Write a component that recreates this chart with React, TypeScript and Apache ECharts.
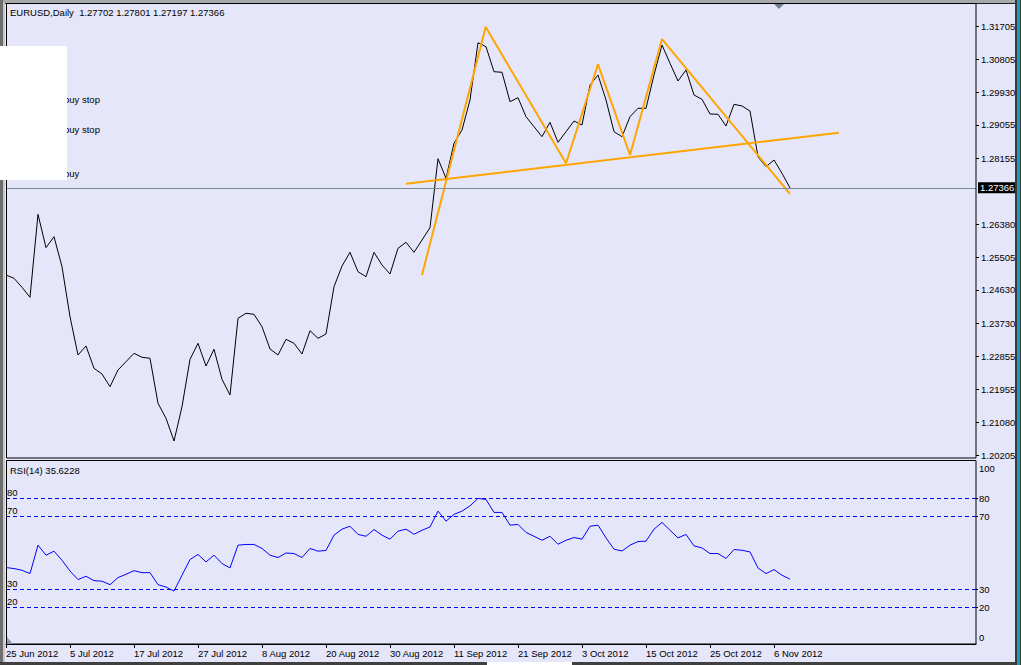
import React, { useEffect, useRef } from "react";
import * as echarts from "echarts";

// Daily closes, bar 0 = 25 Jun 2012 ... bar 98 = 8 Nov 2012
const closes = [
  1.2503, 1.24942, 1.247, 1.24432, 1.26657, 1.25762, 1.26057, 1.25253, 1.23912, 1.22886,
  1.23127, 1.22529, 1.22376, 1.22036, 1.22484, 1.22706, 1.22931, 1.22824, 1.22797, 1.21591,
  1.21189, 1.2058, 1.215, 1.2277, 1.23199, 1.22591, 1.23039, 1.22234, 1.21813, 1.2387,
  1.24004, 1.23977, 1.23644, 1.23047, 1.22886, 1.23307, 1.23199, 1.22913, 1.23537, 1.23333,
  1.23449, 1.24717, 1.25271, 1.25639, 1.25119, 1.24985, 1.25639, 1.25298, 1.25057, 1.25746,
  1.25907, 1.25639, 1.25968, 1.26298, 1.28148, 1.27622, 1.28561, 1.28917, 1.29721, 1.31257,
  1.3115, 1.3048, 1.30464, 1.29676, 1.29783, 1.29274, 1.29006, 1.28738, 1.29124, 1.28587,
  1.28872, 1.29158, 1.29051, 1.30123, 1.30392, 1.29721, 1.28872, 1.28738, 1.29274, 1.29499,
  1.29499, 1.30392, 1.31196, 1.30705, 1.30231, 1.30526, 1.29855, 1.2974, 1.29346, 1.29338,
  1.29024, 1.29606, 1.29561, 1.29426, 1.28201, 1.27933, 1.28113, 1.27756, 1.27366,
];

const rsiValues = [
  42.0, 41.45, 40.5, 38.7, 54.3, 48.8, 51.0, 46.0, 40.1, 35.4,
  37.2, 34.8, 34.5, 32.6, 36.5, 38.3, 40.3, 39.2, 39.2, 32.6,
  31.3, 29.1, 37.8, 46.4, 49.2, 45.1, 48.8, 44.2, 41.8, 54.3,
  54.7, 54.7, 52.5, 48.8, 47.5, 50.0, 49.7, 47.5, 52.5, 51.0,
  51.4, 59.8, 63.1, 64.7, 60.2, 59.2, 62.9, 59.8, 57.6, 62.0,
  63.1, 60.3, 62.5, 64.3, 73.0, 67.5, 71.2, 73.0, 75.9, 80.0,
  79.4, 72.3, 72.3, 65.3, 65.7, 61.3, 59.2, 57.0, 59.2, 54.8,
  57.0, 58.5, 57.6, 64.7, 65.3, 58.3, 52.1, 51.1, 54.3, 56.3,
  56.5, 63.1, 66.8, 62.5, 58.3, 60.2, 53.9, 52.8, 49.7, 49.7,
  47.0, 51.9, 51.5, 50.6, 41.8, 38.7, 40.9, 37.8, 35.6228,
];

const dateLabels = [
  "25 Jun 2012", "5 Jul 2012", "17 Jul 2012", "27 Jul 2012", "8 Aug 2012", "20 Aug 2012",
  "30 Aug 2012", "11 Sep 2012", "21 Sep 2012", "3 Oct 2012", "15 Oct 2012", "25 Oct 2012", "6 Nov 2012",
];
const dateTickBars = [0, 8, 16, 24, 32, 40, 48, 56, 64, 72, 80, 88, 96];

const priceTicks = [
  1.31705, 1.30805, 1.2993, 1.29055, 1.28155, 1.2638, 1.25505, 1.2463, 1.2373, 1.22855,
  1.21955, 1.2108, 1.20205,
];
const rsiLevels = [80, 70, 30, 20];
const rsiEdgeLabels = ["100", "0"];

// Trend-line drawings: [bar, price]
const zigzag = [
  [52.0, 1.2503], [59.96, 1.31678], [70.0, 1.28025], [74.0, 1.30678],
  [78.0, 1.28247], [82.0, 1.31356], [98.0, 1.27202],
];
const neckline = [[50.0, 1.27478], [104.1, 1.28845]];

const lastPrice = 1.27366;
const headerText = "EURUSD,Daily  1.27702 1.27801 1.27197 1.27366";
const rsiTitle = "RSI(14) 35.6228";
const orderTexts = ["buy stop", "buy stop", "buy"];

const FONT = "Liberation Sans";
const FS = 9.5;
const BG = "#E6E6FA";

export default function App() {
  const ref = useRef<HTMLDivElement>(null);
  useEffect(() => {
    document.body.style.margin = "0";
    const chart = echarts.init(ref.current!, null, { renderer: "svg" });
    const priceMin = 1.31705 - 432 * 0.000268065;
    const priceMax = 1.31705 + 22 * 0.000268065;
    const option: any = {
      animation: false,
      backgroundColor: BG,
      textStyle: { fontFamily: FONT, fontSize: FS, color: "#000" },
      grid: [
        { left: 6, top: 4, width: 970, height: 454 },
        { left: 6, top: 462, width: 970, height: 182 },
      ],
      xAxis: [
        {
          type: "value", gridIndex: 0, min: 0, max: 121.25,
          axisLine: { show: false, onZero: false }, axisTick: { show: false }, axisLabel: { show: false }, splitLine: { show: false },
        },
        {
          type: "value", gridIndex: 1, min: 0, max: 121.25, position: "bottom",
          axisLine: { show: true, onZero: false, lineStyle: { color: "#000", width: 1 } },
          axisTick: { show: true, customValues: dateTickBars, length: 4, lineStyle: { color: "#000" } },
          axisLabel: {
            show: true, customValues: dateTickBars, align: "left", margin: 4,
            fontFamily: FONT, fontSize: FS, color: "#000",
            formatter: (v: number) => dateLabels[dateTickBars.indexOf(Math.round(v))] ?? "",
          },
          splitLine: { show: false },
        },
      ],
      yAxis: [
        {
          type: "value", gridIndex: 0, position: "right", min: priceMin, max: priceMax, scale: true,
          axisLine: { show: false, onZero: false },
          axisTick: { show: true, customValues: priceTicks, length: 3, lineStyle: { color: "#000" } },
          axisLabel: {
            show: true, customValues: priceTicks, margin: 5, fontFamily: FONT, fontSize: FS, color: "#000",
            formatter: (v: number) => v.toFixed(5),
          },
          splitLine: { show: false },
        },
        {
          type: "value", gridIndex: 1, position: "right", min: 0, max: 100,
          axisLine: { show: false, onZero: false },
          axisTick: { show: true, customValues: rsiLevels, length: 2, lineStyle: { color: "#000" } },
          axisLabel: {
            show: true, customValues: rsiLevels, margin: 3, fontFamily: FONT, fontSize: FS, color: "#000",
          },
          splitLine: { show: false },
        },
      ],
      series: [
        {
          type: "line", xAxisIndex: 0, yAxisIndex: 0, z: 3,
          data: closes.map((c, i) => [i, c]),
          symbol: "none", lineStyle: { color: "#000", width: 1 },
          markLine: {
            silent: true, symbol: "none", precision: 5,
            lineStyle: { color: "#778899", width: 1, type: "solid" },
            label: {
              show: true, position: "end", distance: 2, formatter: () => lastPrice.toFixed(5),
              backgroundColor: "#000", color: "#fff", padding: [1, 2, 0, 2],
              fontFamily: FONT, fontSize: FS,
            },
            data: [{ yAxis: lastPrice }],
          },
        },
        {
          type: "line", xAxisIndex: 0, yAxisIndex: 0, z: 4,
          data: zigzag, symbol: "none", lineStyle: { color: "#FFA500", width: 2 },
        },
        {
          type: "line", xAxisIndex: 0, yAxisIndex: 0, z: 4,
          data: neckline, symbol: "none", lineStyle: { color: "#FFA500", width: 2 },
        },
        {
          type: "line", xAxisIndex: 1, yAxisIndex: 1, z: 3,
          data: rsiValues.map((r, i) => [i, r]),
          symbol: "none", lineStyle: { color: "#0000FF", width: 1 },
          markLine: {
            silent: true, symbol: "none",
            lineStyle: { color: "#0000FF", width: 1, type: [4, 3] },
            label: {
              show: true, position: "insideStartTop", distance: [1, 1],
              fontFamily: FONT, fontSize: FS, color: "#000",
              formatter: (p: any) => String(p.value),
            },
            data: rsiLevels.map((l) => ({ yAxis: l })),
          },
        },
      ],
      graphic: [
        // outer window frame
        { type: "rect", shape: { x: 0, y: 0, width: 1021, height: 3 }, style: { fill: "#A8A8A8" }, z: 50 },
        { type: "rect", shape: { x: 0, y: 0, width: 3, height: 665 }, style: { fill: "#6E6E6E" }, z: 50 },
        { type: "rect", shape: { x: 3, y: 3, width: 2, height: 662 }, style: { fill: "#C8C8C8" }, z: 50 },
        { type: "rect", shape: { x: 1015, y: 0, width: 2, height: 665 }, style: { fill: "#3A3A3A" }, z: 50 },
        { type: "rect", shape: { x: 1017, y: 0, width: 3, height: 665 }, style: { fill: "#1E9AB8" }, z: 50 },
        { type: "rect", shape: { x: 1020, y: 0, width: 1, height: 665 }, style: { fill: "#3A3A3A" }, z: 50 },
        { type: "rect", shape: { x: 0, y: 662, width: 1015, height: 3 }, style: { fill: "#404040" }, z: 50 },
        { type: "rect", shape: { x: 487, y: 662, width: 85, height: 3 }, style: { fill: "#FFFFFF" }, z: 51 },
        { type: "line", shape: { x1: 5, y1: 3.5, x2: 1015, y2: 3.5 }, style: { stroke: "#202020", lineWidth: 1 }, z: 50 },
        // panel borders
        { type: "rect", shape: { x: 6.5, y: 3.5, width: 969.5, height: 454.5 }, style: { fill: "none", stroke: "#000", lineWidth: 1 }, z: 60 },
        { type: "rect", shape: { x: 6.5, y: 460.5, width: 969.5, height: 183.5 }, style: { fill: "none", stroke: "#000", lineWidth: 1 }, z: 60 },
        // shift marker
        { type: "polygon", shape: { points: [[774, 4], [784, 4], [779, 9]] }, style: { fill: "#708090" }, z: 61 },
        { type: "polygon", shape: { points: [[7, 637], [7, 644], [13, 644]] }, style: { fill: "#8A9AB0" }, z: 61 },
        // texts
        { type: "text", x: 10, y: 12, style: { text: headerText, fill: "#000", font: `${FS}px "${FONT}"`, verticalAlign: "middle", whiteSpace: "pre" }, z: 62 },
        { type: "text", x: 10, y: 470, style: { text: rsiTitle, fill: "#000", font: `${FS}px "${FONT}"`, verticalAlign: "middle" }, z: 62 },
        { type: "text", x: 64, y: 99, style: { text: orderTexts[0], fill: "#000", font: `${FS}px "${FONT}"`, verticalAlign: "middle" }, z: 62 },
        { type: "text", x: 64, y: 129, style: { text: orderTexts[1], fill: "#000", font: `${FS}px "${FONT}"`, verticalAlign: "middle" }, z: 62 },
        { type: "text", x: 64, y: 173, style: { text: orderTexts[2], fill: "#000", font: `${FS}px "${FONT}"`, verticalAlign: "middle" }, z: 62 },
        { type: "rect", shape: { x: 0, y: 46, width: 67, height: 134 }, style: { fill: "#FFFFFF" }, z: 70 },
        { type: "text", x: 979, y: 468, style: { text: rsiEdgeLabels[0], fill: "#000", font: `${FS}px "${FONT}"`, verticalAlign: "middle" }, z: 62 },
        { type: "text", x: 979, y: 637, style: { text: rsiEdgeLabels[1], fill: "#000", font: `${FS}px "${FONT}"`, verticalAlign: "middle" }, z: 62 },
      ],
    };
    chart.setOption(option);
    return () => chart.dispose();
  }, []);
  return <div ref={ref} style={{ position: "absolute", left: 0, top: 0, width: 1021, height: 665 }} />;
}
